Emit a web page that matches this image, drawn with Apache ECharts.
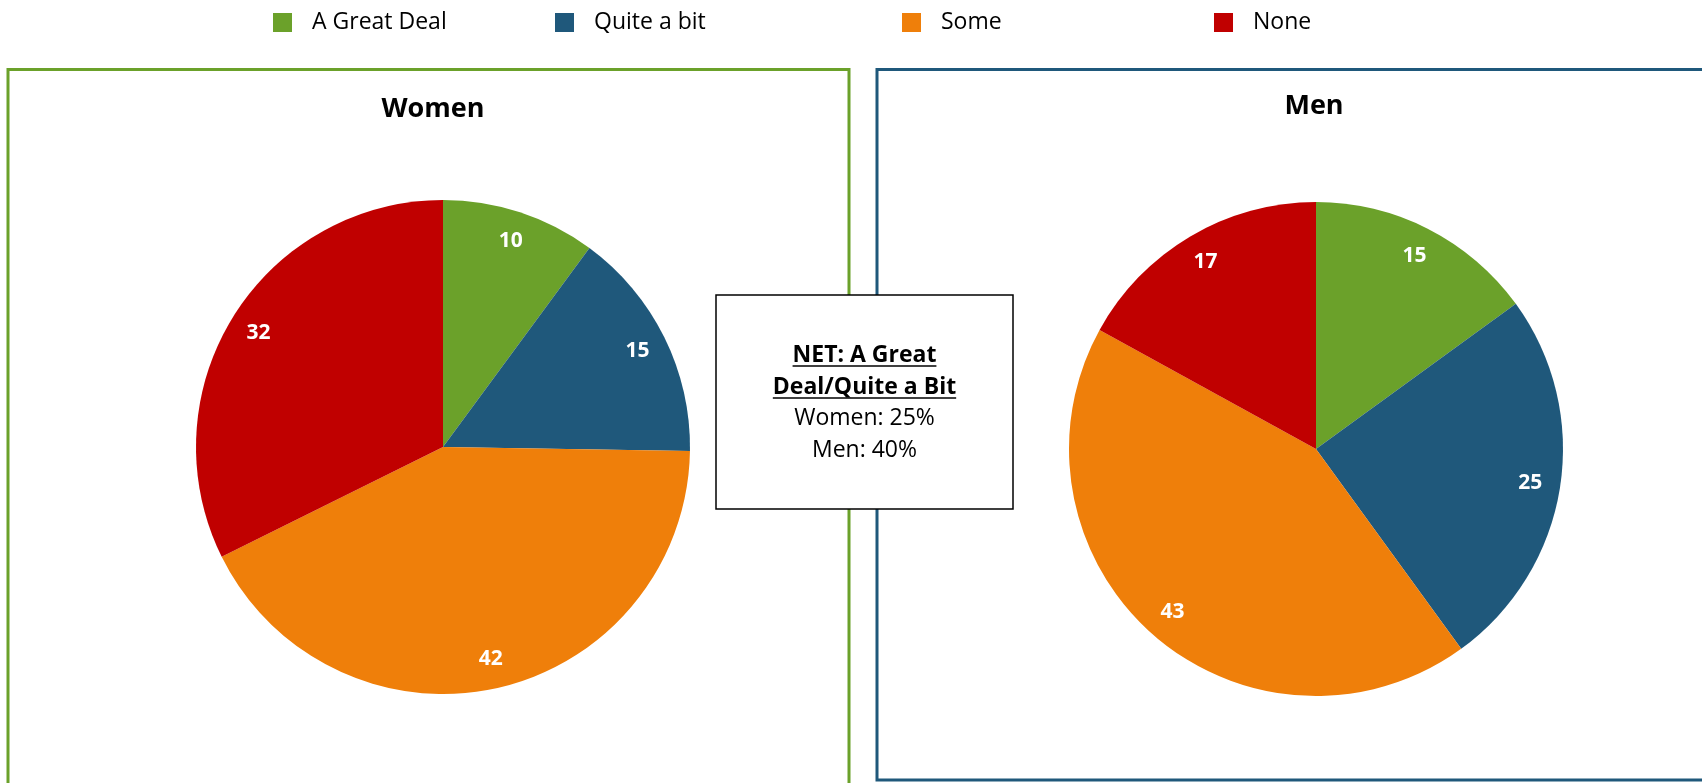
<!DOCTYPE html>
<html>
<head>
<meta charset="utf-8">
<script src="https://cdn.jsdelivr.net/npm/echarts@6/dist/echarts.min.js"></script>
<style>
  html, body { margin: 0; padding: 0; background: #fff; }
  #chart { width: 1702px; height: 783px; }
</style>
</head>
<body>
<div id="chart"></div>
<script>
// data
const categories = ['A Great Deal', 'Quite a bit', 'Some', 'None'];
const colors = ['#6ba12a', '#1f587b', '#ef7f0a', '#c00000'];
const women = [10, 15, 42, 32];
const men = [15, 25, 43, 17];
const panelTitles = ['Women', 'Men'];
const netTitle = ['NET: A Great', 'Deal/Quite a Bit'];
const netValues = [25, 40]; // women, men

const FONT = '"Open Sans", "Noto Sans", sans-serif';
const legendLeft = [273, 555, 902, 1214];

var myChart = echarts.init(document.getElementById('chart'));

function toData(vals) {
  return vals.map((v, i) => ({ value: v, name: categories[i], itemStyle: { color: colors[i] } }));
}

// measure text so underlines fit the words
const ctx = document.createElement('canvas').getContext('2d');
function textWidth(txt, font) {
  ctx.font = font;
  return ctx.measureText(txt).width;
}

function pieSeries(vals, center) {
  return [
    {
      type: 'pie',
      center: center,
      radius: [0, 247],
      startAngle: 90,
      clockwise: true,
      label: { show: false },
      labelLine: { show: false },
      itemStyle: { borderWidth: 0 },
      emphasis: { disabled: true },
      data: toData(vals)
    },
    {
      // transparent ring only used to put the labels near the rim
      type: 'pie',
      center: center,
      radius: [181, 247],
      startAngle: 90,
      clockwise: true,
      silent: true,
      avoidLabelOverlap: false,
      itemStyle: { color: 'rgba(0,0,0,0)', borderWidth: 0 },
      label: {
        show: true,
        position: 'inside',
        formatter: '{c}',
        color: '#fff',
        fontSize: 21,
        fontWeight: 'bold',
        fontFamily: FONT
      },
      labelLine: { show: false },
      emphasis: { disabled: true },
      data: vals.map((v, i) => ({ value: v, name: categories[i] }))
    }
  ];
}

const boldFont = 'bold 23px ' + FONT;
const regFont = '23px ' + FONT;
const boxCx = 864.5;

let graphics = [
  { type: 'rect', z: 0, shape: { x: 8, y: 69.5, width: 841, height: 800 },
    style: { fill: 'none', stroke: colors[0], lineWidth: 3 } },
  { type: 'rect', z: 0, shape: { x: 877, y: 69.5, width: 900, height: 710.5 },
    style: { fill: 'none', stroke: colors[1], lineWidth: 3 } },
  { type: 'rect', z: 10, shape: { x: 716, y: 295, width: 297, height: 214 },
    style: { fill: '#fff', stroke: '#000', lineWidth: 1.5 } },
  { type: 'text', z: 11, style: { text: panelTitles[0], x: 433, y: 109, font: 'bold 27px ' + FONT,
    fill: '#000', align: 'center', verticalAlign: 'middle', textAlign: 'center', textVerticalAlign: 'middle' } },
  { type: 'text', z: 11, style: { text: panelTitles[1], x: 1314, y: 106, font: 'bold 27px ' + FONT,
    fill: '#000', align: 'center', verticalAlign: 'middle', textAlign: 'center', textVerticalAlign: 'middle' } }
];

const boxLines = [
  { text: netTitle[0], y: 355, font: boldFont, underline: true },
  { text: netTitle[1], y: 387, font: boldFont, underline: true },
  { text: 'Women: ' + netValues[0] + '%', y: 418, font: regFont },
  { text: 'Men: ' + netValues[1] + '%', y: 450, font: regFont }
];
boxLines.forEach(l => {
  graphics.push({ type: 'text', z: 12, style: { text: l.text, x: boxCx, y: l.y, font: l.font, fill: '#000',
    align: 'center', verticalAlign: 'middle', textAlign: 'center', textVerticalAlign: 'middle' } });
  if (l.underline) {
    let w = textWidth(l.text, l.font);
    graphics.push({ type: 'line', z: 12, shape: { x1: boxCx - w / 2, y1: l.y + 11, x2: boxCx + w / 2, y2: l.y + 11 },
      style: { stroke: '#000', lineWidth: 1.5 } });
  }
});

option = {
  animation: false,
  legend: categories.map((c, i) => ({
    left: legendLeft[i],
    top: 11,
    padding: 0,
    icon: 'rect',
    itemWidth: 19,
    itemHeight: 19,
    selectedMode: false,
    textStyle: { fontSize: 23, fontFamily: FONT, color: '#000', padding: [0, 0, 0, 15] },
    data: [{ name: c, itemStyle: { color: colors[i] } }]
  })),
  graphic: graphics,
  series: [].concat(pieSeries(women, [443, 447]), pieSeries(men, [1316, 449]))
};

myChart.setOption(option);
</script>
</body>
</html>
